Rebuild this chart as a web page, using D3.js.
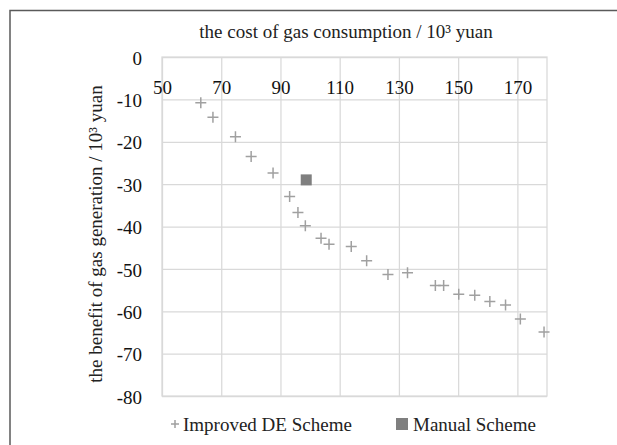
<!DOCTYPE html>
<html>
<head>
<meta charset="utf-8">
<script src="https://cdn.jsdelivr.net/npm/d3@7"></script>
<style>
  body { margin: 0; background: #fff; }
  svg { display: block; font-family: "Liberation Serif", "Times New Roman", serif; }
</style>
</head>
<body>
<svg id="chart"></svg>
<script>
const width = 617, height = 445;

// Improved DE scheme (cost, benefit) in 10^3 yuan
const deCost = [63.1, 67.2, 74.8, 80.1, 87.5, 93.1, 95.9, 98.4, 103.7, 106.4, 113.9, 119.1, 126.3, 132.9, 142.3, 145.1, 150.2, 155.6, 160.7, 166.0, 171.0, 179.0];
const deBenefit = [-10.8, -14.2, -18.8, -23.5, -27.4, -32.9, -36.7, -39.8, -42.8, -44.2, -44.7, -48.1, -51.3, -50.9, -53.9, -53.9, -56.0, -56.2, -57.7, -58.5, -61.8, -64.9];

// Manual scheme
const manualCost = [98.7];
const manualBenefit = [-29.0];

const xTicks = [50, 70, 90, 110, 130, 150, 170];
const yTicks = [0, -10, -20, -30, -40, -50, -60, -70, -80];

const xTitle = "the cost of gas consumption / 10³ yuan";
const yTitle = "the benefit of gas generation / 10³ yuan";
const legendLabels = ["Improved DE Scheme", "Manual Scheme"];

const svg = d3.select("#chart")
    .attr("width", width)
    .attr("height", height);

const plotL = 162, plotR = 547, plotT = 57, plotB = 396;

const x = d3.scaleLinear().domain([50, 180]).range([plotL, plotR]);
const y = d3.scaleLinear().domain([0, -80]).range([plotT, plotB]);

const gridColor = "#d9d9d9";
const plusColor = "#a0a0a0";
const squareColor = "#7f7f7f";
const serif = "Liberation Serif, Times New Roman, serif";

// outer frame (top + left edges)
svg.append("path")
    .attr("d", `M10,${height} V10.5 H${width}`)
    .attr("fill", "none")
    .attr("stroke", "#5a5a5a")
    .attr("stroke-width", 1.5);

// gridlines
svg.append("g")
    .attr("transform", `translate(0,${plotB})`)
    .call(d3.axisBottom(x).tickValues(xTicks).tickSize(-(plotB - plotT)).tickFormat(""))
    .call(g => g.select(".domain").remove())
    .call(g => g.selectAll("line").attr("stroke", gridColor).attr("stroke-width", 1.25));

svg.append("g")
    .attr("transform", `translate(${plotL},0)`)
    .call(d3.axisLeft(y).tickValues(yTicks).tickSize(-(plotR - plotL)).tickFormat(""))
    .call(g => g.select(".domain").remove())
    .call(g => g.selectAll("line").attr("stroke", gridColor).attr("stroke-width", 1.25));

// plot border
svg.append("rect")
    .attr("x", plotL).attr("y", plotT)
    .attr("width", plotR - plotL).attr("height", plotB - plotT)
    .attr("fill", "none")
    .attr("stroke", gridColor)
    .attr("stroke-width", 1.25);

// x axis labels sit under the 0 line
svg.append("g")
    .attr("transform", `translate(0,${y(0)})`)
    .call(d3.axisBottom(x).tickValues(xTicks).tickSize(0).tickPadding(24).tickFormat(d => String(d)))
    .call(g => g.select(".domain").remove())
    .call(g => g.selectAll("text")
        .attr("font-family", serif)
        .attr("font-size", 19)
        .attr("fill", "#111"));

// y axis labels (plain hyphen for the minus, as in the original)
svg.append("g")
    .attr("transform", `translate(${plotL},0)`)
    .call(d3.axisLeft(y).tickValues(yTicks).tickSize(0).tickPadding(20).tickFormat(d => String(d)))
    .call(g => g.select(".domain").remove())
    .call(g => g.selectAll("text")
        .attr("font-family", serif)
        .attr("font-size", 19)
        .attr("dy", "0.38em")
        .attr("fill", "#111"));

// titles
svg.append("text")
    .attr("x", 346).attr("y", 37.5)
    .attr("text-anchor", "middle")
    .attr("font-size", 19)
    .attr("fill", "#222")
    .text(xTitle);

svg.append("text")
    .attr("transform", "translate(102,234) rotate(-90)")
    .attr("text-anchor", "middle")
    .attr("font-size", 19)
    .attr("fill", "#222")
    .text(yTitle);

// plus marker
const plus = (cx, cy, r) => `M${cx - r},${cy} H${cx + r} M${cx},${cy - r} V${cy + r}`;

svg.append("g")
    .selectAll("path")
    .data(d3.zip(deCost, deBenefit))
    .join("path")
    .attr("d", d => plus(x(d[0]), y(d[1]), 5.5))
    .attr("stroke", plusColor)
    .attr("stroke-width", 1.5)
    .attr("fill", "none");

svg.append("g")
    .selectAll("rect")
    .data(d3.zip(manualCost, manualBenefit))
    .join("rect")
    .attr("x", d => x(d[0]) - 5.5)
    .attr("y", d => y(d[1]) - 5.5)
    .attr("width", 11)
    .attr("height", 11)
    .attr("fill", squareColor);

// legend
const legY = 424;
svg.append("path")
    .attr("d", plus(175, legY, 4))
    .attr("stroke", plusColor)
    .attr("stroke-width", 1.5);
svg.append("text")
    .attr("x", 183).attr("y", legY + 7)
    .attr("font-size", 19)
    .attr("fill", "#222")
    .text(legendLabels[0]);

svg.append("rect")
    .attr("x", 396).attr("y", legY - 6)
    .attr("width", 12).attr("height", 12)
    .attr("fill", squareColor);
svg.append("text")
    .attr("x", 413).attr("y", legY + 7)
    .attr("font-size", 19)
    .attr("fill", "#222")
    .text(legendLabels[1]);
</script>
</body>
</html>
